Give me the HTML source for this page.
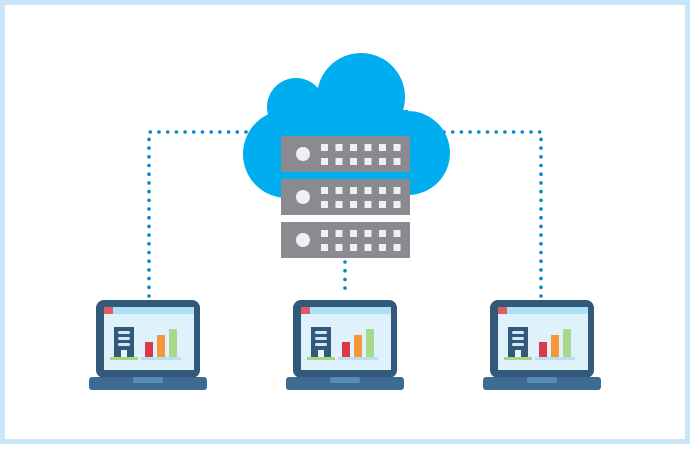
<!DOCTYPE html>
<html><head><style>
html,body{margin:0;padding:0;background:#fff;}
</style></head><body>
<svg width="690" height="444" viewBox="0 0 690 444" xmlns="http://www.w3.org/2000/svg">
<rect x="2.5" y="2.5" width="685" height="439" fill="#fff" stroke="#c9e5f8" stroke-width="5"/>
<g stroke="#0a87c9" stroke-width="3.6" stroke-linecap="round" stroke-dasharray="0 8.7" fill="none">
<path d="M149 296 V132 H252"/>
<path d="M541 296 V132 H438"/>
<path d="M345 262 V296"/>
</g>
<g fill="#00adee">
<circle cx="296" cy="107" r="29"/>
<circle cx="361" cy="97" r="44"/>
<circle cx="408" cy="153" r="42"/>
<circle cx="287" cy="154" r="44"/>
<rect x="287" y="110" width="121" height="88"/>
</g>
<defs>
<g id="rack">
<rect x="0" y="0" width="129" height="36" fill="#8a8a90"/>
<circle cx="22" cy="18" r="7" fill="#f0f0f0"/>
<g fill="#f0f0f0">
<rect x="40" y="8" width="7" height="7"/><rect x="54.5" y="8" width="7" height="7"/><rect x="69" y="8" width="7" height="7"/><rect x="83.5" y="8" width="7" height="7"/><rect x="98" y="8" width="7" height="7"/><rect x="112.5" y="8" width="7" height="7"/>
<rect x="40" y="22" width="7" height="7"/><rect x="54.5" y="22" width="7" height="7"/><rect x="69" y="22" width="7" height="7"/><rect x="83.5" y="22" width="7" height="7"/><rect x="98" y="22" width="7" height="7"/><rect x="112.5" y="22" width="7" height="7"/>
</g>
</g>
<g id="lap">
<rect x="-52" y="0" width="104" height="78" rx="8" fill="#33597a"/>
<rect x="-44" y="7" width="90" height="63" fill="#dff2fb"/>
<rect x="-44" y="7" width="90" height="7" fill="#aee0f5"/>
<rect x="-44" y="7" width="9" height="7" fill="#e25a63"/>
<rect x="-59" y="77" width="118" height="13" rx="3" fill="#3e6b92"/>
<rect x="-15" y="77" width="30" height="6" rx="2" fill="#5b8ab2"/>
<rect x="-34" y="27" width="20" height="30" fill="#33597a"/>
<rect x="-30" y="31" width="12" height="3" rx="1.5" fill="#cfe9f7"/>
<rect x="-30" y="37" width="12" height="3" rx="1.5" fill="#cfe9f7"/>
<rect x="-30" y="43" width="12" height="3" rx="1.5" fill="#cfe9f7"/>
<rect x="-27" y="50" width="6" height="7" fill="#eaf6fc"/>
<rect x="-38" y="57" width="28" height="3" fill="#a6d77a"/>
<rect x="-3" y="42" width="8" height="16" fill="#d83a48"/>
<rect x="9" y="35" width="8" height="23" fill="#f7953a"/>
<rect x="21" y="29" width="8" height="29" fill="#a6d98a"/>
<rect x="-7" y="57" width="40" height="3" fill="#b5e1f5"/>
</g>
</defs>
<use href="#rack" x="281" y="136"/>
<use href="#rack" x="281" y="179"/>
<use href="#rack" x="281" y="222"/>
<use href="#lap" x="148" y="300"/>
<use href="#lap" x="345" y="300"/>
<use href="#lap" x="542" y="300"/>
</svg>
</body></html>
